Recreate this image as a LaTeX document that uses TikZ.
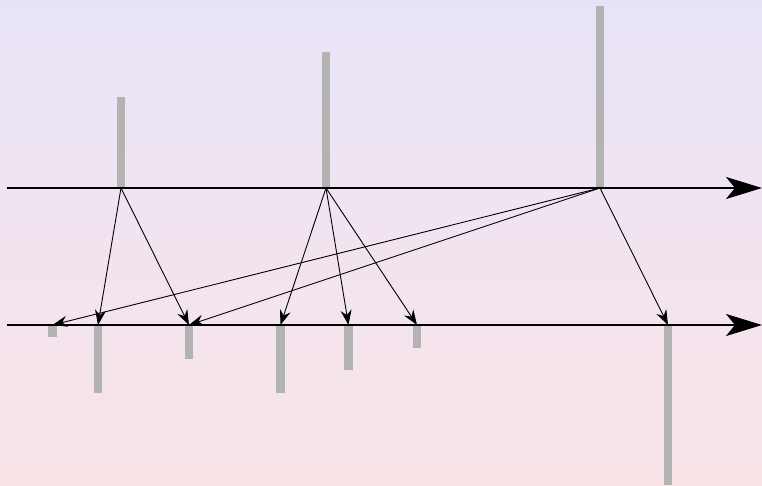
\documentclass[tikz,border=0pt]{standalone}
\usetikzlibrary{arrows.meta}
\definecolor{bgtop}{RGB}{232,228,247}
\definecolor{bgbot}{RGB}{250,228,232}
\definecolor{bargray}{RGB}{179,179,179}
\begin{document}
\begin{tikzpicture}[x=1pt,y=-1pt,
  bar/.style={rectangle,fill=bargray,draw=none,inner sep=0pt,minimum width=8.5pt},
  upbar/.style={bar,anchor=south},
  downbar/.style={bar,anchor=north},
  axis/.style={line width=2pt,-{Stealth[length=36pt,width=22pt,inset=9pt]}},
  link/.style={line width=0.9pt,-{Stealth[length=15pt,width=11pt,inset=5pt]}}]
\shade[top color=bgtop,bottom color=bgbot] (0,0) rectangle (762,486);
\useasboundingbox (0,0) rectangle (762,486);
% top bars
\node[upbar,minimum height=91pt] (t1) at (121,188) {};
\node[upbar,minimum height=136pt] (t2) at (326,188) {};
\node[upbar,minimum height=182pt] (t3) at (600,188) {};
% bottom bars
\node[downbar,minimum height=12pt] (b1) at (52.5,325) {};
\node[downbar,minimum height=68pt] (b2) at (98,325) {};
\node[downbar,minimum height=34pt] (b3) at (189,325) {};
\node[downbar,minimum height=68pt] (b4) at (280.5,325) {};
\node[downbar,minimum height=45pt] (b5) at (348.5,325) {};
\node[downbar,minimum height=23pt] (b6) at (417,325) {};
\node[downbar,minimum height=160pt] (b7) at (668,325) {};
% axes
\coordinate (a1s) at (7,188);
\coordinate (a1e) at (762,188);
\coordinate (a2s) at (7,325);
\coordinate (a2e) at (762,325);
\draw[axis] (a1s) -- (a1e);
\draw[axis] (a2s) -- (a2e);
% links
\draw[link] (t1.south) -- (b2.north);
\draw[link] (t1.south) -- (b3.north);
\draw[link] (t2.south) -- (b4.north);
\draw[link] (t2.south) -- (b5.north);
\draw[link] (t2.south) -- (b6.north);
\draw[link] (t3.south) -- (b1.north);
\draw[link] (t3.south) -- (b3.north);
\draw[link] (t3.south) -- (b7.north);
\end{tikzpicture}
\end{document}
